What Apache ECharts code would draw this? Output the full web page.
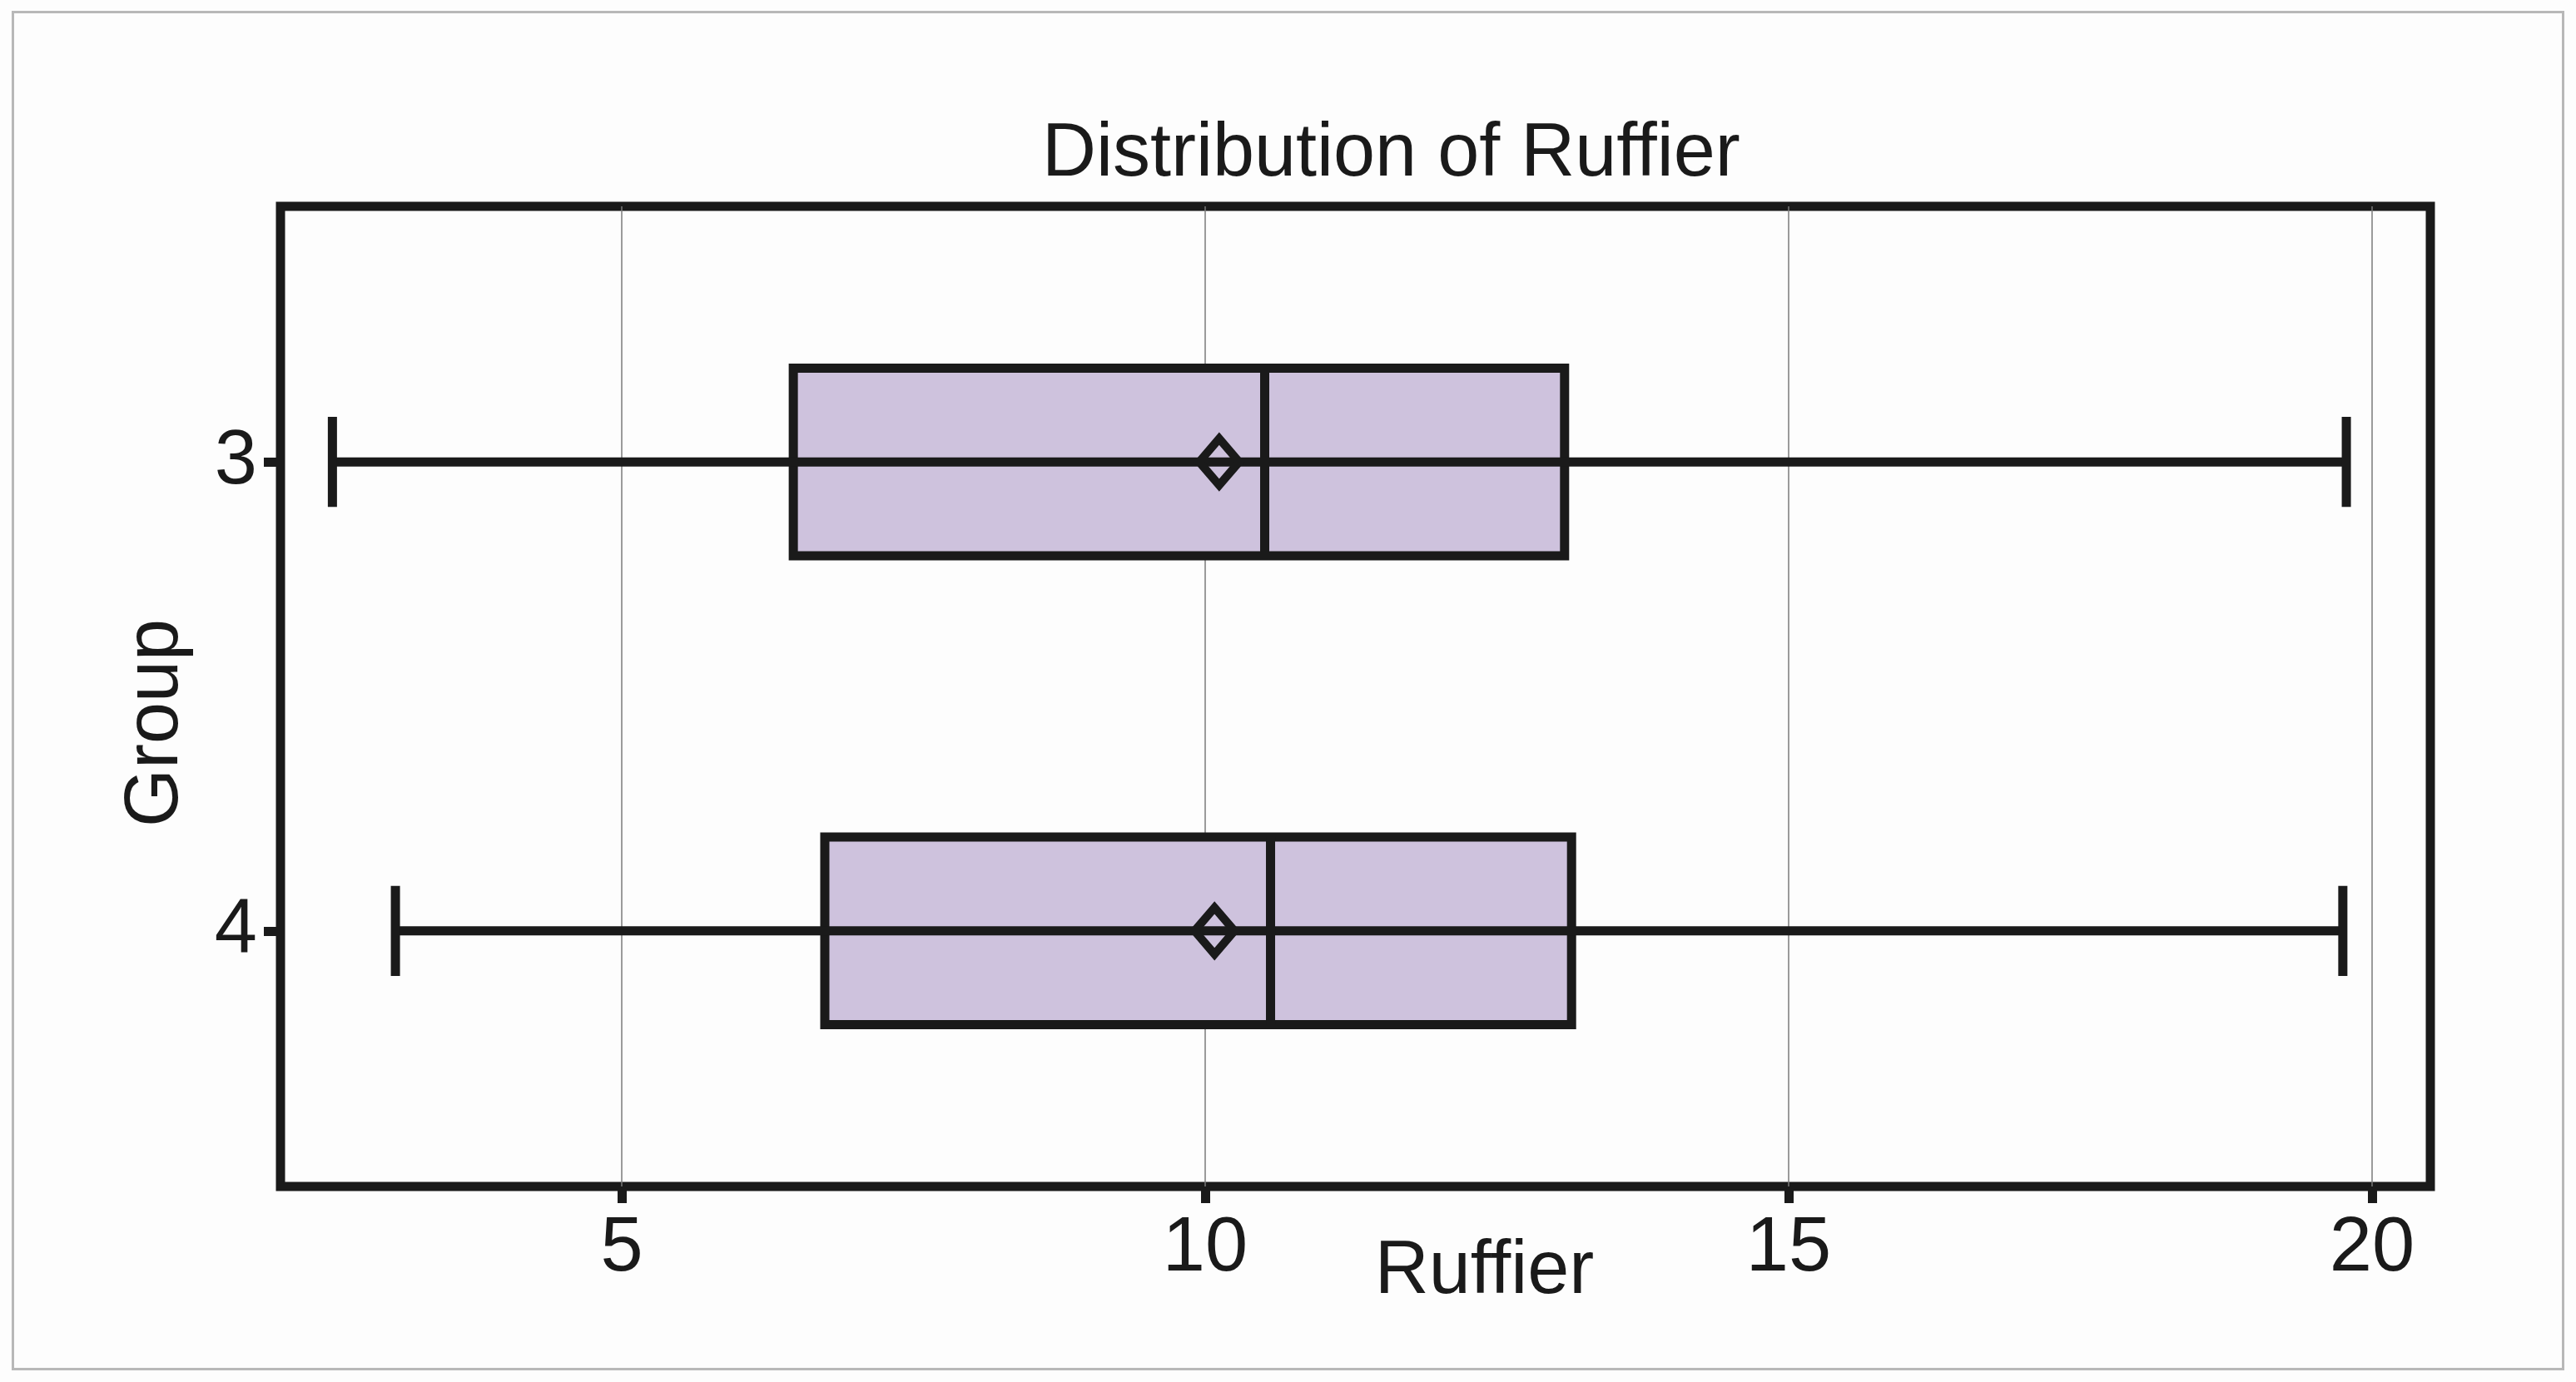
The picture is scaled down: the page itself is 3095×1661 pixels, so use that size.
<!DOCTYPE html>
<html>
<head>
<meta charset="utf-8">
<script src="https://cdn.jsdelivr.net/npm/echarts@6/dist/echarts.min.js"></script>
<style>
html, body { margin: 0; padding: 0; background: #fdfdfd; }
#c { width: 3095px; height: 1661px; }
</style>
</head>
<body>
<div id="c"></div>
<script>
// ---- data ----
const groups = [3, 4];
const whiskerLow = [2.52, 3.06];
const q1 = [6.47, 6.74];
const median = [10.51, 10.56];
const q3 = [13.08, 13.14];
const whiskerHigh = [19.78, 19.75];
const means = [10.12, 10.08];
const xTicks = [5, 10, 15, 20];

// ---- styling ----
const INK = '#1a1a1a';
const FILL = '#cec2dd';
const FONT = 'Liberation Sans, Arial, sans-serif';
const LW = 11;
const BOX_HALF = 0.2;   // in category units
const CAP_HALF = 0.096;

const chart = echarts.init(document.getElementById('c'), null, { renderer: 'canvas' });

const boxData = groups.map((g, i) => [g, whiskerLow[i], q1[i], median[i], q3[i], whiskerHigh[i]]);
const meanData = groups.map((g, i) => [means[i], g]);

function renderBox(params, api) {
  const y = api.value(0);
  const pLo = api.coord([api.value(1), y]);
  const pQ1 = api.coord([api.value(2), y]);
  const pMed = api.coord([api.value(3), y]);
  const pQ3 = api.coord([api.value(4), y]);
  const pHi = api.coord([api.value(5), y]);
  const boxH = api.size([0, BOX_HALF * 2])[1];
  const capH = api.size([0, CAP_HALF * 2])[1];
  const cy = pQ1[1];
  const ls = { stroke: INK, lineWidth: LW, fill: null };
  return {
    type: 'group',
    children: [
      { type: 'rect', shape: { x: pQ1[0], y: cy - boxH / 2, width: pQ3[0] - pQ1[0], height: boxH },
        style: { fill: FILL, stroke: INK, lineWidth: LW } },
      { type: 'line', shape: { x1: pLo[0], y1: cy, x2: pHi[0], y2: cy }, style: ls },
      { type: 'line', shape: { x1: pLo[0], y1: cy - capH / 2, x2: pLo[0], y2: cy + capH / 2 }, style: ls },
      { type: 'line', shape: { x1: pHi[0], y1: cy - capH / 2, x2: pHi[0], y2: cy + capH / 2 }, style: ls },
      { type: 'line', shape: { x1: pMed[0], y1: cy - boxH / 2, x2: pMed[0], y2: cy + boxH / 2 }, style: ls }
    ]
  };
}

const option = {
  animation: false,
  backgroundColor: '#fdfdfd',
  title: {
    text: 'Distribution of Ruffier',
    left: 1247,
    top: 136,
    textStyle: { fontFamily: FONT, fontSize: 90, fontWeight: 'normal', color: INK }
  },
  graphic: [{
    type: 'rect', left: 13, top: 12, silent: true,
    shape: { width: 3064, height: 1631 },
    style: { fill: 'none', stroke: '#b8b8b8', lineWidth: 3 }
  }],
  grid: {
    left: 337, right: 175, top: 248, bottom: 235,
    show: true, borderColor: INK, borderWidth: LW, backgroundColor: 'transparent'
  },
  xAxis: {
    type: 'value',
    min: 2.075, max: 20.5,
    axisLine: { show: false },
    axisTick: { show: true, customValues: xTicks, length: 20, lineStyle: { color: INK, width: LW } },
    axisLabel: { customValues: xTicks, fontFamily: FONT, fontSize: 92, color: INK, margin: 30 },
    splitLine: { show: true, lineStyle: { color: '#7a7a7a', width: 1.5 } },
    name: 'Ruffier',
    nameLocation: 'middle',
    nameGap: 58,
    nameMoveOverlap: false,
    nameTextStyle: { fontFamily: FONT, fontSize: 90, color: INK, padding: [0, 0, 0, 310] }
  },
  yAxis: {
    type: 'value',
    inverse: true,
    min: 2.455, max: 4.545,
    axisLine: { show: false },
    axisTick: { show: true, customValues: groups, length: 20, lineStyle: { color: INK, width: LW } },
    axisLabel: { customValues: groups, fontFamily: FONT, fontSize: 92, color: INK, margin: 28 },
    splitLine: { show: false },
    name: 'Group',
    nameLocation: 'middle',
    nameGap: 104,
    nameMoveOverlap: false,
    nameTextStyle: { fontFamily: FONT, fontSize: 90, color: INK, padding: [0, 64, 0, 0] }
  },
  series: [
    {
      type: 'custom',
      renderItem: renderBox,
      data: boxData,
      encode: { y: 0, x: [1, 2, 3, 4, 5] },
      z: 2
    },
    {
      type: 'scatter',
      data: meanData,
      symbol: 'diamond',
      symbolSize: [48, 56],
      itemStyle: { color: 'rgba(0,0,0,0)', borderColor: INK, borderWidth: 10, opacity: 1 },
      z: 3
    }
  ]
};

chart.setOption(option);
</script>
</body>
</html>
